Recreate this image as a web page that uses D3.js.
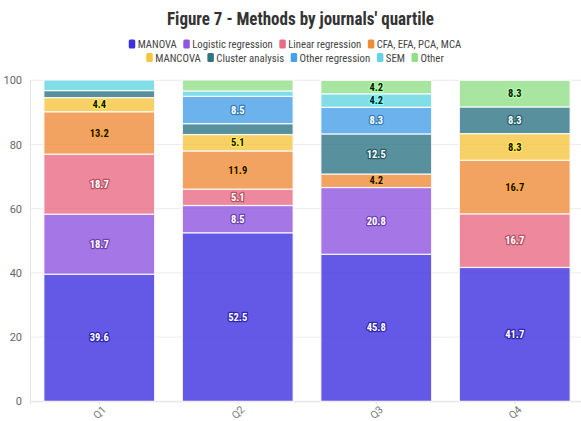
<!DOCTYPE html>
<html>
<head>
<meta charset="utf-8">
<script src="https://cdn.jsdelivr.net/npm/d3@7"></script>
<style>
  html, body { margin: 0; padding: 0; background: #fff; }
  svg { display: block; font-family: "Roboto Condensed", "Roboto", sans-serif; }
</style>
</head>
<body>
<svg id="chart" width="581" height="421"></svg>
<script>
// Share of each method (%) per journal quartile
const quartiles = ["Q1", "Q2", "Q3", "Q4"];
const methods = ["MANOVA", "Logistic regression", "Linear regression", "CFA, EFA, PCA, MCA",
                 "MANCOVA", "Cluster analysis", "Other regression", "SEM", "Other"];
const manova       = [39.6, 52.5, 45.8, 41.7];
const logistic     = [18.7, 8.5, 20.8, 0];
const linear       = [18.7, 5.1, 0, 16.7];
const cfa          = [13.2, 11.9, 4.2, 16.7];
const mancova      = [4.4, 5.1, 0, 8.3];
const cluster      = [2.2, 3.4, 12.5, 8.3];
const otherRegr    = [0, 8.5, 8.3, 0];
const sem          = [3.3, 1.7, 4.2, 0];
const other        = [0, 3.4, 4.2, 8.3];
const yTicks = [0, 20, 40, 60, 80, 100];

const seriesValues = [manova, logistic, linear, cfa, mancova, cluster, otherRegr, sem, other];
const colors = ["#3d2fe0", "#8e55e0", "#ea6a83", "#ef8c3a", "#f5c540",
                "#2e7585", "#47a0e8", "#64d5e0", "#92df8a"];
const darkText = [false, false, false, true, true, false, false, true, true];

const rows = quartiles.map((q, i) => {
  const r = { quartile: q };
  methods.forEach((m, k) => r[m] = seriesValues[k][i]);
  return r;
});

const svg = d3.select("#chart");
const margin = { left: 30, right: -3 };
const W = 581;

const x = d3.scaleBand().domain(quartiles)
  .range([margin.left, W - margin.right]).paddingInner(0.2).paddingOuter(0.1);
const y = d3.scaleLinear().domain([0, 100]).range([401.3, 80.3]);
const color = d3.scaleOrdinal().domain(methods).range(colors);

// grid
svg.append("g").selectAll("line").data(yTicks).join("line")
  .attr("x1", margin.left).attr("x2", W)
  .attr("y1", d => y(d)).attr("y2", d => y(d))
  .attr("stroke", "#ececec").attr("stroke-width", 1);
svg.append("line").attr("x1", margin.left + 0.5).attr("x2", margin.left + 0.5)
  .attr("y1", y(100)).attr("y2", y(0)).attr("stroke", "#e4e4e4");

// y axis
const yAxis = svg.append("g").attr("transform", `translate(${margin.left},0)`)
  .call(d3.axisLeft(y).tickValues(yTicks).tickSize(0).tickPadding(8));
yAxis.select(".domain").remove();
yAxis.selectAll("text").attr("fill", "#666").style("font-size", "11px")
  .style("font-family", "Roboto, sans-serif");

// x axis
const xAxis = svg.append("g").attr("transform", `translate(0,${y(0)})`)
  .call(d3.axisBottom(x).tickSize(3).tickPadding(4));
xAxis.select(".domain").attr("stroke", "#e4e4e4");
xAxis.selectAll(".tick line").attr("stroke", "#ddd");
xAxis.selectAll("text").attr("fill", "#777").style("font-size", "10.5px")
  .style("font-family", "Roboto, sans-serif")
  .attr("text-anchor", "end").attr("dx", "-0.1em").attr("dy", "0.45em")
  .attr("transform", "rotate(-45)");

// stacked bars
const stack = d3.stack().keys(methods)(rows);
const layers = svg.append("g").selectAll("g").data(stack).join("g")
  .attr("fill", d => color(d.key)).attr("fill-opacity", 0.8);
layers.selectAll("rect").data(d => d.filter(s => s[1] - s[0] > 0)).join("rect")
  .attr("x", d => x(d.data.quartile))
  .attr("width", x.bandwidth())
  .attr("y", d => y(d[1]))
  .attr("height", d => y(d[0]) - y(d[1]))
  .attr("stroke", "#fff").attr("stroke-opacity", 0.85).attr("stroke-width", 1.2);

// value labels
const labelG = svg.append("g");
stack.forEach((layer, k) => {
  const c = d3.color(colors[k]);
  const dark = darkText[k];
  layer.forEach(s => {
    const v = s[1] - s[0];
    if (v < 4) return;
    const cx = x(s.data.quartile) + x.bandwidth() / 2;
    const cy = y((s[0] + s[1]) / 2);
    labelG.append("text")
      .attr("x", cx).attr("y", cy)
      .attr("text-anchor", "middle").attr("dy", "0.35em")
      .style("font-size", "10.5px").style("font-weight", "bold")
      .style("paint-order", "stroke")
      .attr("fill", dark ? "#111" : "#fff")
      .attr("stroke", dark ? c.brighter(0.5).formatHex() : c.darker(0.7).formatHex())
      .attr("stroke-width", 2.6).attr("stroke-linejoin", "round")
      .text(d3.format(".1f")(v));
  });
});

// title
svg.append("text").attr("x", 300.5).attr("y", 25).attr("text-anchor", "middle")
  .attr("textLength", 267).attr("lengthAdjust", "spacingAndGlyphs")
  .style("font-size", "19px").style("font-weight", "bold").attr("fill", "#333")
  .text("Figure 7 - Methods by journals' quartile");

// legend in two centred rows, labels narrowed slightly to fit the row width
const legendRows = [methods.slice(0, 4), methods.slice(4)];
const legendY = [44, 57.5];
const legendWidths = [332.5, 297.5];
const legendCenter = 295;
const swW = 6.5, swGap = 2.4, itemGap = 6.5;
legendRows.forEach((items, ri) => {
  const g = svg.append("g").attr("transform", `translate(0,${legendY[ri]})`);
  const texts = items.map(m => g.append("text").attr("dy", "0.35em")
    .style("font-size", "11.5px").attr("fill", "#444").text(m));
  const raw = texts.map(t => t.node().getComputedTextLength());
  const fixed = items.length * (swW + swGap) + (items.length - 1) * itemGap;
  const k = (legendWidths[ri] - fixed) / d3.sum(raw);
  let cx = legendCenter - legendWidths[ri] / 2;
  items.forEach((m, i) => {
    g.append("rect").attr("x", cx).attr("y", -4.5).attr("width", swW).attr("height", 9)
      .attr("rx", 1.5).attr("fill", color(m));
    const tx = cx + swW + swGap;
    texts[i].attr("transform", `translate(${tx},0) scale(${k},1)`);
    cx = tx + raw[i] * k + itemGap;
  });
});
</script>
</body>
</html>
